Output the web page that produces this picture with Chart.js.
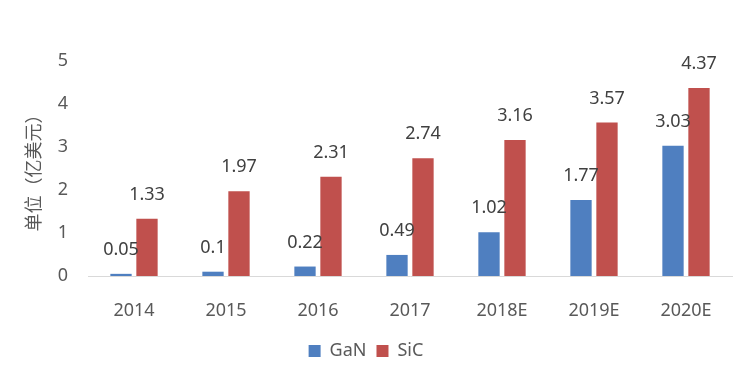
<!DOCTYPE html>
<html>
<head>
<meta charset="utf-8">
<script src="https://cdn.jsdelivr.net/npm/chart.js@4"></script>
<style>
  html, body { margin: 0; padding: 0; background: #fff; }
  #wrap { width: 744px; height: 391px; }
</style>
</head>
<body>
<div id="wrap"><canvas id="barChart" width="744" height="391"></canvas></div>
<script>
const years = ["2014", "2015", "2016", "2017", "2018E", "2019E", "2020E"];
const ganValues = [0.05, 0.1, 0.22, 0.49, 1.02, 1.77, 3.03];
const sicValues = [1.33, 1.97, 2.31, 2.74, 3.16, 3.57, 4.37];
const yTicks = [0, 1, 2, 3, 4, 5];

const FONT = "'Noto Sans', 'Noto Sans CJK SC', sans-serif";

// value labels above each bar
const barLabels = {
  id: "barLabels",
  afterDatasetsDraw(chart) {
    const ctx = chart.ctx;
    ctx.save();
    ctx.font = "18px " + FONT;
    ctx.fillStyle = "#404040";
    ctx.textAlign = "center";
    ctx.textBaseline = "middle";
    chart.data.datasets.forEach((ds, i) => {
      chart.getDatasetMeta(i).data.forEach((bar, j) => {
        ctx.fillText(String(ds.data[j]), bar.x, bar.y - 24);
      });
    });
    ctx.restore();
  },
};

new Chart(document.getElementById("barChart"), {
  type: "bar",
  data: {
    labels: years,
    datasets: [
      {
        label: "GaN",
        data: ganValues,
        backgroundColor: "#4f7fc0",
        categoryPercentage: 0.565,
        barPercentage: 0.82,
      },
      {
        label: "SiC",
        data: sicValues,
        backgroundColor: "#c0504d",
        categoryPercentage: 0.565,
        barPercentage: 0.82,
      },
    ],
  },
  options: {
    responsive: false,
    animation: false,
    layout: { padding: { top: 61, right: 12, left: 0, bottom: 21 } },
    scales: {
      x: {
        grid: { display: false },
        border: { display: true, color: "#d9d9d9", width: 1 },
        ticks: { color: "#595959", font: { family: FONT, size: 18 }, padding: 16 },
        afterFit: (s) => { s.height = 56; },
      },
      y: {
        min: 0,
        max: 5,
        afterBuildTicks: (s) => { s.ticks = yTicks.map((v) => ({ value: v })); },
        grid: { display: false, drawTicks: false },
        border: { display: false },
        ticks: { color: "#595959", font: { family: FONT, size: 18 }, padding: 20 },
        title: {
          display: true,
          text: "单位（亿美元）",
          color: "#595959",
          font: { family: FONT, size: 18 },
          padding: { top: 24, bottom: 0 },
        },
        afterFit: (s) => { s.width = 88; },
      },
    },
    plugins: {
      legend: {
        position: "bottom",
        labels: {
          boxWidth: 12,
          boxHeight: 12,
          padding: 10,
          color: "#595959",
          font: { family: FONT, size: 18 },
        },
      },
      tooltip: { enabled: false },
    },
  },
  plugins: [barLabels],
});
</script>
</body>
</html>
